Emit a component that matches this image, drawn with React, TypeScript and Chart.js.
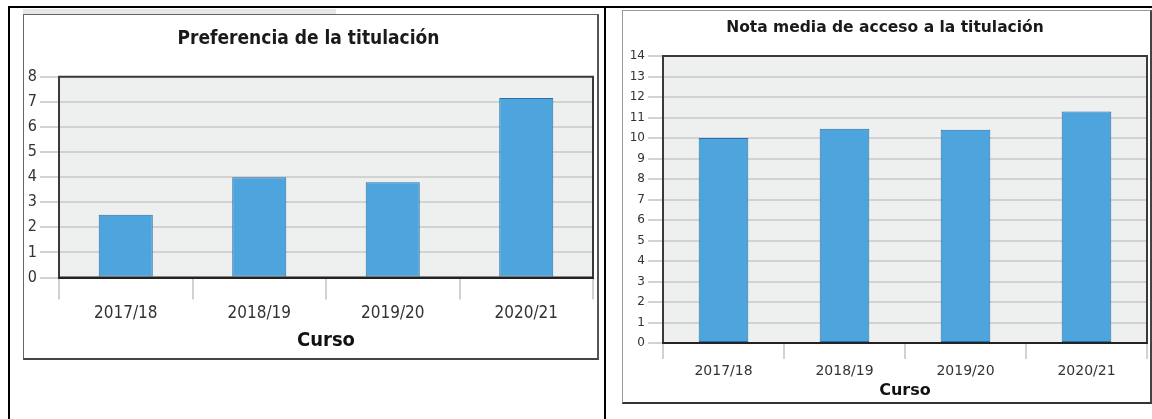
import React, { useEffect, useRef } from "react";
import { Chart, registerables } from "chart.js";

Chart.register(...registerables);

const categories = ["2017/18", "2018/19", "2019/20", "2020/21"];
const preferenciaValues = [2.5, 4.0, 3.8, 7.15];
const notaValues = [10.0, 10.45, 10.4, 11.3];
const preferenciaTitle = "Preferencia de la titulación";
const notaTitle = "Nota media de acceso a la titulación";
const xAxisTitle = "Curso";

const BAR_FILL = "#4ea4dc";
const BAR_BORDER = "#2a72a6";
const PLOT_BG = "#eeefef";
const GRID = "#d2d2d2";

const plotDecor = {
  id: "plotDecor",
  beforeDraw(chart: any) {
    const { ctx, chartArea: a } = chart;
    ctx.save();
    ctx.fillStyle = PLOT_BG;
    ctx.fillRect(a.left, a.top, a.right - a.left, a.bottom - a.top);
    ctx.restore();
  },
  afterDraw(chart: any) {
    const { ctx, chartArea: a } = chart;
    ctx.save();
    ctx.strokeStyle = "#3a3a3a";
    ctx.lineWidth = 2;
    ctx.beginPath();
    ctx.moveTo(a.left, a.bottom);
    ctx.lineTo(a.left, a.top);
    ctx.lineTo(a.right, a.top);
    ctx.lineTo(a.right, a.bottom);
    ctx.stroke();
    ctx.strokeStyle = "#222";
    ctx.beginPath();
    ctx.moveTo(a.left, a.bottom);
    ctx.lineTo(a.right, a.bottom);
    ctx.stroke();
    ctx.restore();
  },
};

type Cfg = {
  values: number[];
  title: string;
  max: number;
  family: string;
  titleSize: number;
  titlePad: { top: number; bottom: number };
  yTickSize: number;
  yTickLen: number;
  yWidth: number;
  xTickSize: number;
  xTickLen: number;
  xTickPad: number;
  xHeight: number;
  xTitleSize: number;
  xTitlePadBottom: number;
  rightPad: number;
  barPct: number;
};

function BarChart({ cfg, width, height }: { cfg: Cfg; width: number; height: number }) {
  const ref = useRef<HTMLCanvasElement | null>(null);
  useEffect(() => {
    if (!ref.current) return;
    const chart = new Chart(ref.current, {
      type: "bar",
      data: {
        labels: categories,
        datasets: [
          {
            data: cfg.values,
            backgroundColor: BAR_FILL,
            borderColor: BAR_BORDER,
            borderWidth: 1,
            borderSkipped: false,
            categoryPercentage: 1,
            barPercentage: cfg.barPct,
          },
        ],
      },
      options: {
        animation: false,
        responsive: false,
        maintainAspectRatio: false,
        layout: { padding: { left: 0, right: cfg.rightPad, top: 0, bottom: 0 } },
        plugins: {
          legend: { display: false },
          tooltip: { enabled: false },
          title: {
            display: true,
            text: cfg.title,
            color: "#1a1a1a",
            font: { family: cfg.family, size: cfg.titleSize, weight: "bold" },
            padding: cfg.titlePad,
          },
        },
        scales: {
          x: {
            offset: true,
            grid: {
              display: true,
              offset: true,
              drawOnChartArea: false,
              drawTicks: true,
              tickLength: cfg.xTickLen,
              color: GRID,
              lineWidth: 2,
            },
            border: { display: true, color: "#222", width: 2 },
            ticks: {
              color: "#333",
              padding: cfg.xTickPad,
              font: { family: cfg.family, size: cfg.xTickSize },
              maxRotation: 0,
            },
            title: {
              display: true,
              text: xAxisTitle,
              color: "#111",
              font: { family: cfg.family, size: cfg.xTitleSize, weight: "bold" },
              padding: { top: 0, bottom: cfg.xTitlePadBottom },
            },
            afterFit: (s: any) => {
              s.height = cfg.xHeight;
            },
          },
          y: {
            min: 0,
            max: cfg.max,
            ticks: {
              stepSize: 1,
              color: "#333",
              padding: 3,
              font: { family: cfg.family, size: cfg.yTickSize },
            },
            grid: {
              color: GRID,
              lineWidth: 2,
              drawTicks: true,
              tickLength: cfg.yTickLen,
            },
            border: { display: true, color: "#333", width: 2 },
            afterFit: (s: any) => {
              s.width = cfg.yWidth;
            },
          },
        },
      },
      plugins: [plotDecor],
    });
    return () => chart.destroy();
  }, [cfg]);
  return <canvas ref={ref} width={width} height={height} style={{ display: "block", width, height }} />;
}

const leftCfg: Cfg = {
  values: preferenciaValues,
  title: preferenciaTitle,
  max: 8,
  family: "'DejaVu Sans Condensed', 'Liberation Sans Narrow', 'Open Sans', sans-serif",
  titleSize: 19,
  titlePad: { top: 13, bottom: 26 },
  yTickSize: 16,
  yTickLen: 19,
  yWidth: 35,
  xTickSize: 17,
  xTickLen: 22,
  xTickPad: 4,
  xHeight: 80.5,
  xTitleSize: 20,
  xTitlePadBottom: 5,
  rightPad: 4,
  barPct: 0.405,
};

const rightCfg: Cfg = {
  values: notaValues,
  title: notaTitle,
  max: 14,
  family: "'DejaVu Sans', Verdana, sans-serif",
  titleSize: 15.5,
  titlePad: { top: 8, bottom: 18.5 },
  yTickSize: 12,
  yTickLen: 15,
  yWidth: 40,
  xTickSize: 14,
  xTickLen: 16,
  xTickPad: 4,
  xHeight: 59,
  xTitleSize: 16,
  xTitlePadBottom: 2,
  rightPad: 3,
  barPct: 0.41,
};

export default function App() {
  const line = "#000";
  return (
    <div style={{ position: "absolute", left: 0, top: 0, width: 1152, height: 419, background: "#fff", overflow: "hidden" }}>
      {/* table borders */}
      <div style={{ position: "absolute", left: 8, top: 6, width: 1144, height: 2, background: line }} />
      <div style={{ position: "absolute", left: 8, top: 6, width: 2, height: 413, background: line }} />
      <div style={{ position: "absolute", left: 604, top: 6, width: 2, height: 413, background: line }} />
      {/* cropped strip above left chart */}
      <div style={{ position: "absolute", left: 23, top: 9, width: 313, height: 5, background: "#e6e6e6" }} />
      {/* left chart frame */}
      <div
        style={{
          position: "absolute",
          left: 23,
          top: 14,
          width: 573,
          height: 343,
          borderTop: "1px solid #666",
          borderLeft: "1px solid #666",
          borderRight: "2px solid #555",
          borderBottom: "2px solid #444",
          background: "#fff",
        }}
      >
        <BarChart cfg={leftCfg} width={573} height={343} />
      </div>
      {/* right chart frame */}
      <div
        style={{
          position: "absolute",
          left: 622,
          top: 10,
          width: 527,
          height: 391,
          borderTop: "1px solid #999",
          borderLeft: "1px solid #999",
          borderRight: "2px solid #444",
          borderBottom: "2px solid #333",
          background: "#fff",
        }}
      >
        <BarChart cfg={rightCfg} width={527} height={391} />
      </div>
    </div>
  );
}
